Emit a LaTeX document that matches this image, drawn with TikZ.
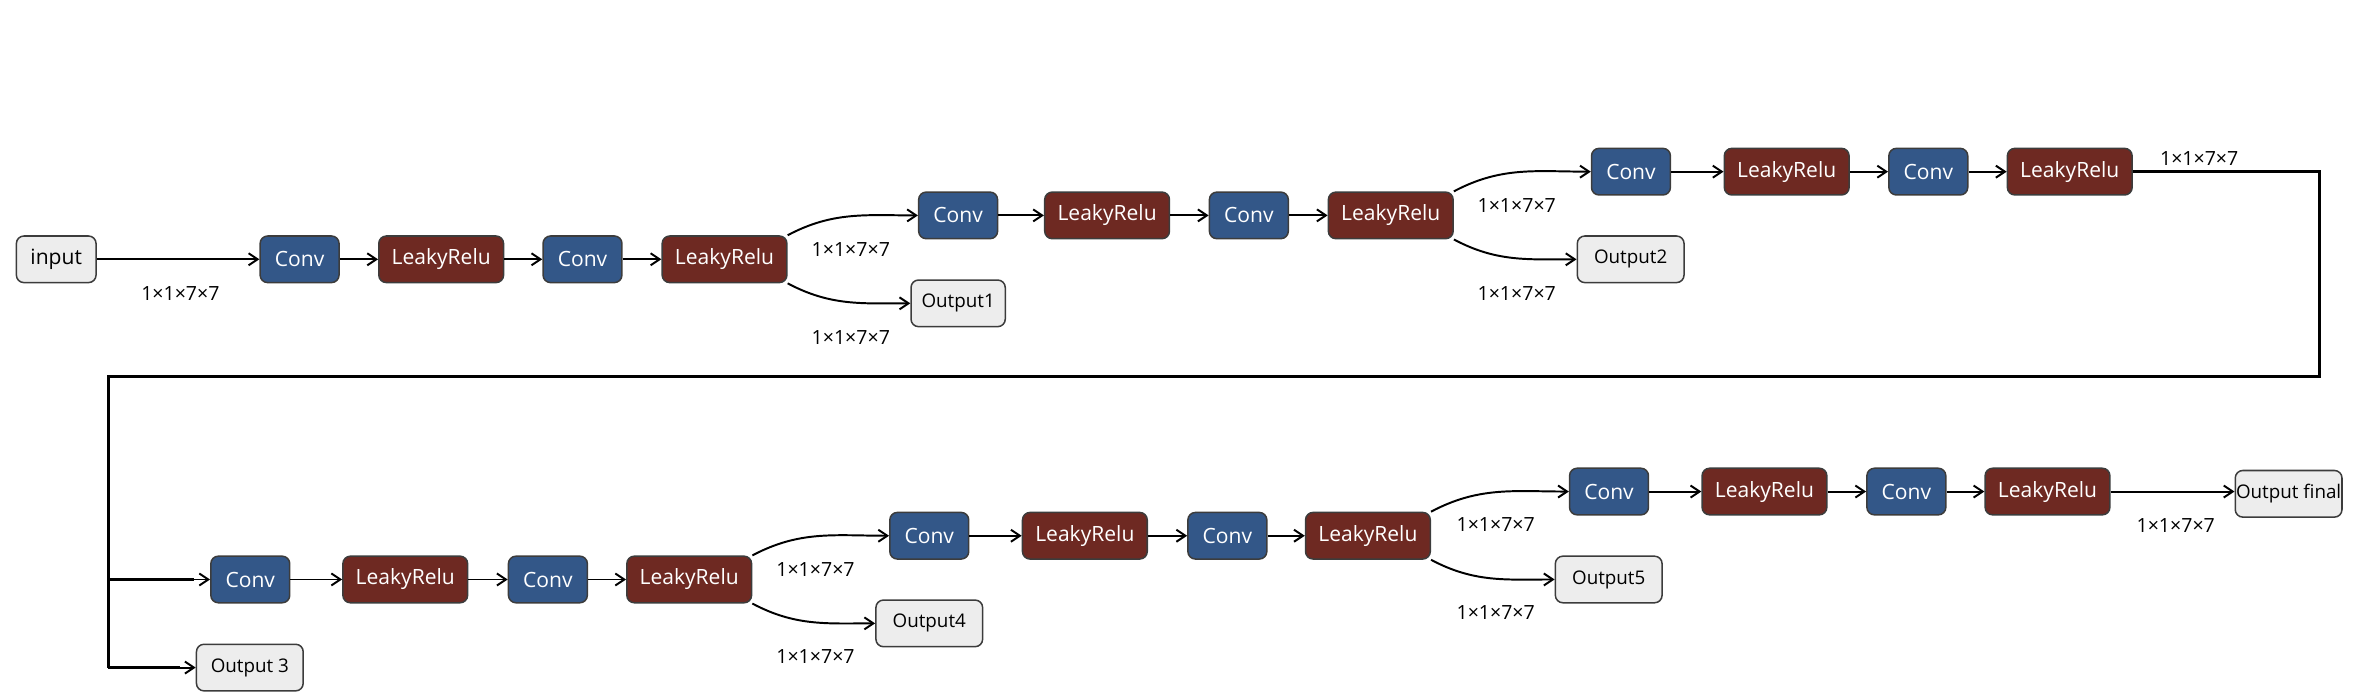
\documentclass[tikz,border=0pt]{standalone}
\usepackage{fontspec}
\setmainfont{Open Sans}
\usetikzlibrary{arrows.meta}
\definecolor{convblue}{HTML}{335788}
\definecolor{relured}{HTML}{6E2922}
\definecolor{lightbox}{HTML}{EDEDED}
\definecolor{boxborder}{HTML}{3C3C3C}
\begin{document}
\begin{tikzpicture}[x=1pt,y=1pt,
  box/.style={rectangle, rounded corners=5pt, draw=boxborder, line width=1pt, minimum height=31pt, inner sep=0pt, font=\fontsize{14}{16}\selectfont},
  convbox/.style={box, fill=convblue, text=white, minimum width=52.5pt},
  relubox/.style={box, fill=relured, text=white, minimum width=83pt},
  outbox/.style={box, fill=lightbox, text=black, minimum width=71pt, font=\fontsize{12.5}{14}\selectfont},
  inbox/.style={box, fill=lightbox, text=black, minimum width=53pt},
  conn/.style={line width=1.3pt, -{Straight Barb[length=6pt,width=8pt]}},
  loopline/.style={line width=1.8pt},
  dimlabel/.style={font=\fontsize{13}{15}\selectfont, inner sep=0pt}
]
\useasboundingbox (0,0) rectangle (1568,-462.35);

% row 1
\node[inbox]   (inp)  at (37.4,-172.5)  {input};
\node[convbox] (cA)   at (199.3,-172.5) {Conv};
\node[relubox] (rA)   at (293.5,-172.5) {LeakyRelu};
\node[convbox] (cB)   at (387.5,-172.5) {Conv};
\node[relubox] (rB)   at (482,-172.5)   {LeakyRelu};
% row 2
\node[convbox] (cC)   at (637.4,-143.3) {Conv};
\node[relubox] (rC)   at (736.5,-143.3) {LeakyRelu};
\node[convbox] (cD)   at (830.8,-143.3) {Conv};
\node[relubox] (rD)   at (925.2,-143.3) {LeakyRelu};
\node[outbox, minimum width=62.7pt] (oA) at (637.4,-201.8) {Output1};
% row 3
\node[convbox] (cE)   at (1085,-114.2)   {Conv};
\node[relubox] (rE)   at (1188.6,-114.2) {LeakyRelu};
\node[convbox] (cF)   at (1282.8,-114.2) {Conv};
\node[relubox] (rF)   at (1376.9,-114.2) {LeakyRelu};
\node[outbox] (oB) at (1084.8,-172.5) {Output2};
% row 4
\node[convbox] (cG)   at (166.5,-385.5) {Conv};
\node[relubox] (rG)   at (269.6,-385.5) {LeakyRelu};
\node[convbox] (cH)   at (364.5,-385.5) {Conv};
\node[relubox] (rH)   at (458.5,-385.5) {LeakyRelu};
\node[outbox] (oC) at (166.2,-444.1) {Output 3};
% row 5
\node[convbox] (cI)   at (618.2,-356.4) {Conv};
\node[relubox] (rI)   at (721.7,-356.4) {LeakyRelu};
\node[convbox] (cJ)   at (816.5,-356.4) {Conv};
\node[relubox] (rJ)   at (910,-356.4)   {LeakyRelu};
\node[outbox] (oD) at (618.2,-414.7) {Output4};
% row 6
\node[convbox] (cK)   at (1070.4,-327) {Conv};
\node[relubox] (rK)   at (1173.8,-327) {LeakyRelu};
\node[convbox] (cL)   at (1268.2,-327) {Conv};
\node[relubox] (rL)   at (1362.1,-327) {LeakyRelu};
\node[outbox] (oE) at (1070.2,-385.5) {Output5};
\node[outbox] (oF) at (1522.5,-328.5) {Output final};

% straight connectors
\draw[conn] (inp) -- (cA);
\draw[conn] (cA) -- (rA);
\draw[conn] (rA) -- (cB);
\draw[conn] (cB) -- (rB);
\draw[conn] (rB.north east) to[out=28,in=180] (cC.west);
\draw[conn] (rB.south east) to[out=-28,in=180] (oA.west);
\draw[conn] (cC) -- (rC);
\draw[conn] (rC) -- (cD);
\draw[conn] (cD) -- (rD);
\draw[conn] (rD.north east) to[out=28,in=180] (cE.west);
\draw[conn] (rD.south east) to[out=-28,in=180] (oB.west);
\draw[conn] (cE) -- (rE);
\draw[conn] (rE) -- (cF);
\draw[conn] (cF) -- (rF);

% loop back
\coordinate (tA) at (1543,-114.2);
\coordinate (tB) at (1543,-250.6);
\coordinate (tC) at (72,-250.6);
\coordinate (tD) at (72,-444.1);
\coordinate (jA) at (72,-385.5);
\coordinate (jAe) at (129,-385.5);
\coordinate (jBe) at (120,-444.1);
\draw[loopline] (rF.east) -- (tA) -- (tB) -- (tC) -- (tD);
\draw[conn] (jA) -- (cG.west);
\draw[conn] (tD) -- (oC.west);
\draw[loopline] (jA) -- (jAe);
\draw[loopline] (tD) -- (jBe);

\draw[conn] (cG) -- (rG);
\draw[conn] (rG) -- (cH);
\draw[conn] (cH) -- (rH);
\draw[conn] (rH.north east) to[out=28,in=180] (cI.west);
\draw[conn] (rH.south east) to[out=-28,in=180] (oD.west);
\draw[conn] (cI) -- (rI);
\draw[conn] (rI) -- (cJ);
\draw[conn] (cJ) -- (rJ);
\draw[conn] (rJ.north east) to[out=28,in=180] (cK.west);
\draw[conn] (rJ.south east) to[out=-28,in=180] (oE.west);
\draw[conn] (cK) -- (rK);
\draw[conn] (rK) -- (cL);
\draw[conn] (cL) -- (rL);
\draw[conn] (rL) -- (rL -| oF.west);

% dimension labels
\node[dimlabel] (dA) at (120,-195.5)   {1×1×7×7};
\node[dimlabel] (dB) at (566,-165.8)   {1×1×7×7};
\node[dimlabel] (dC) at (566,-224.3)   {1×1×7×7};
\node[dimlabel] (dD) at (1009,-137)    {1×1×7×7};
\node[dimlabel] (dE) at (1009,-195)    {1×1×7×7};
\node[dimlabel] (dF) at (1463,-105.5)  {1×1×7×7};
\node[dimlabel] (dG) at (542.5,-379)   {1×1×7×7};
\node[dimlabel] (dH) at (542.5,-437)   {1×1×7×7};
\node[dimlabel] (dI) at (995,-349)     {1×1×7×7};
\node[dimlabel] (dJ) at (995,-407.7)   {1×1×7×7};
\node[dimlabel] (dK) at (1447.4,-349.3) {1×1×7×7};
\end{tikzpicture}
\end{document}
